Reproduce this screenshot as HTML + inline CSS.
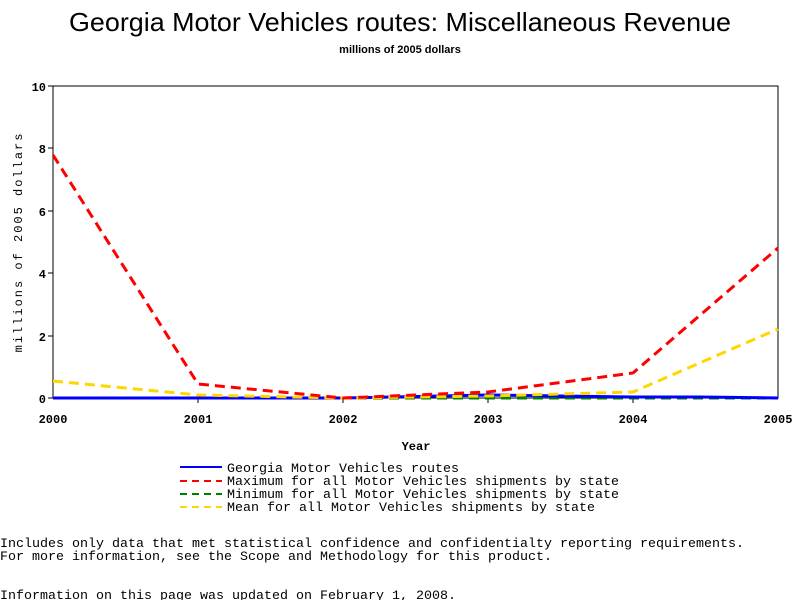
<!DOCTYPE html>
<html><head><style>
body{margin:0;background:#fff;}
svg text{font-family:"Liberation Mono","DejaVu Sans Mono",monospace;}
</style></head><body>
<svg width="800" height="600" xmlns="http://www.w3.org/2000/svg">
<text x="69" y="31" textLength="662" lengthAdjust="spacingAndGlyphs" font-size="26" style="font-family:'Liberation Sans',sans-serif">Georgia Motor Vehicles routes: Miscellaneous Revenue</text>
<text x="400" y="53" text-anchor="middle" font-size="11" font-weight="bold" style="font-family:'Liberation Sans',sans-serif">millions of 2005 dollars</text>
<rect x="53" y="86" width="725" height="312" fill="none" stroke="#000" stroke-width="1"/>
<g font-size="12" font-weight="bold" text-anchor="end" style="font-family:'Liberation Sans',sans-serif">
<text x="46" y="91">10</text><text x="46" y="153">8</text><text x="46" y="216">6</text><text x="46" y="278">4</text><text x="46" y="341">2</text><text x="46" y="403">0</text>
</g>
<g stroke="#000"><line x1="48" y1="86" x2="53" y2="86"/><line x1="48" y1="148" x2="53" y2="148"/><line x1="48" y1="211" x2="53" y2="211"/><line x1="48" y1="273" x2="53" y2="273"/><line x1="48" y1="336" x2="53" y2="336"/><line x1="48" y1="398" x2="53" y2="398"/>
<line x1="198" y1="398" x2="198" y2="403"/><line x1="343" y1="398" x2="343" y2="403"/><line x1="488" y1="398" x2="488" y2="403"/><line x1="633" y1="398" x2="633" y2="403"/></g>
<g font-size="12" font-weight="bold" text-anchor="middle" style="font-family:'Liberation Sans',sans-serif">
<text x="53" y="423">2000</text><text x="198" y="423">2001</text><text x="343" y="423">2002</text><text x="488" y="423">2003</text><text x="633" y="423">2004</text><text x="778" y="423">2005</text>
<text x="416" y="450">Year</text>
</g>
<text transform="translate(22,242) rotate(-90)" text-anchor="middle" font-size="12" letter-spacing="2">millions of 2005 dollars</text>
<polyline points="53,398 198,398 343,398 488,398 633,398 778,398" fill="none" stroke="#008000" stroke-width="3" stroke-dasharray="10,6"/>
<polyline points="53,398 198,398 343,398 488,395 560,396 633,397 700,397 778,398" fill="none" stroke="#0000ff" stroke-width="3"/>
<polyline points="53,381 198,395 343,398 488,396 633,392 778,329" fill="none" stroke="#ffd700" stroke-width="3" stroke-dasharray="10,6"/>
<polyline points="53,155 198,384 343,398 488,392 633,373 778,248" fill="none" stroke="#ff0000" stroke-width="3" stroke-dasharray="10,6"/>
<g stroke-width="2"><line x1="180" y1="467" x2="222" y2="467" stroke="#0000ff"/>
<line x1="180" y1="481" x2="222" y2="481" stroke="#ff0000" stroke-dasharray="7,5"/>
<line x1="180" y1="494" x2="222" y2="494" stroke="#008000" stroke-dasharray="7,5"/>
<line x1="180" y1="507" x2="222" y2="507" stroke="#ffd700" stroke-dasharray="7,5"/></g>
<g font-size="13">
<text x="227" y="472" textLength="232" lengthAdjust="spacingAndGlyphs">Georgia Motor Vehicles routes</text>
<text x="227" y="485" textLength="392" lengthAdjust="spacingAndGlyphs">Maximum for all Motor Vehicles shipments by state</text>
<text x="227" y="498" textLength="392" lengthAdjust="spacingAndGlyphs">Minimum for all Motor Vehicles shipments by state</text>
<text x="227" y="511" textLength="368" lengthAdjust="spacingAndGlyphs">Mean for all Motor Vehicles shipments by state</text>
<text x="0" y="547" textLength="744" lengthAdjust="spacingAndGlyphs">Includes only data that met statistical confidence and confidentialty reporting requirements.</text>
<text x="0" y="560" textLength="552" lengthAdjust="spacingAndGlyphs">For more information, see the Scope and Methodology for this product.</text>
<text x="0" y="599" textLength="456" lengthAdjust="spacingAndGlyphs">Information on this page was updated on February 1, 2008.</text>
</g>
</svg>
</body></html>
